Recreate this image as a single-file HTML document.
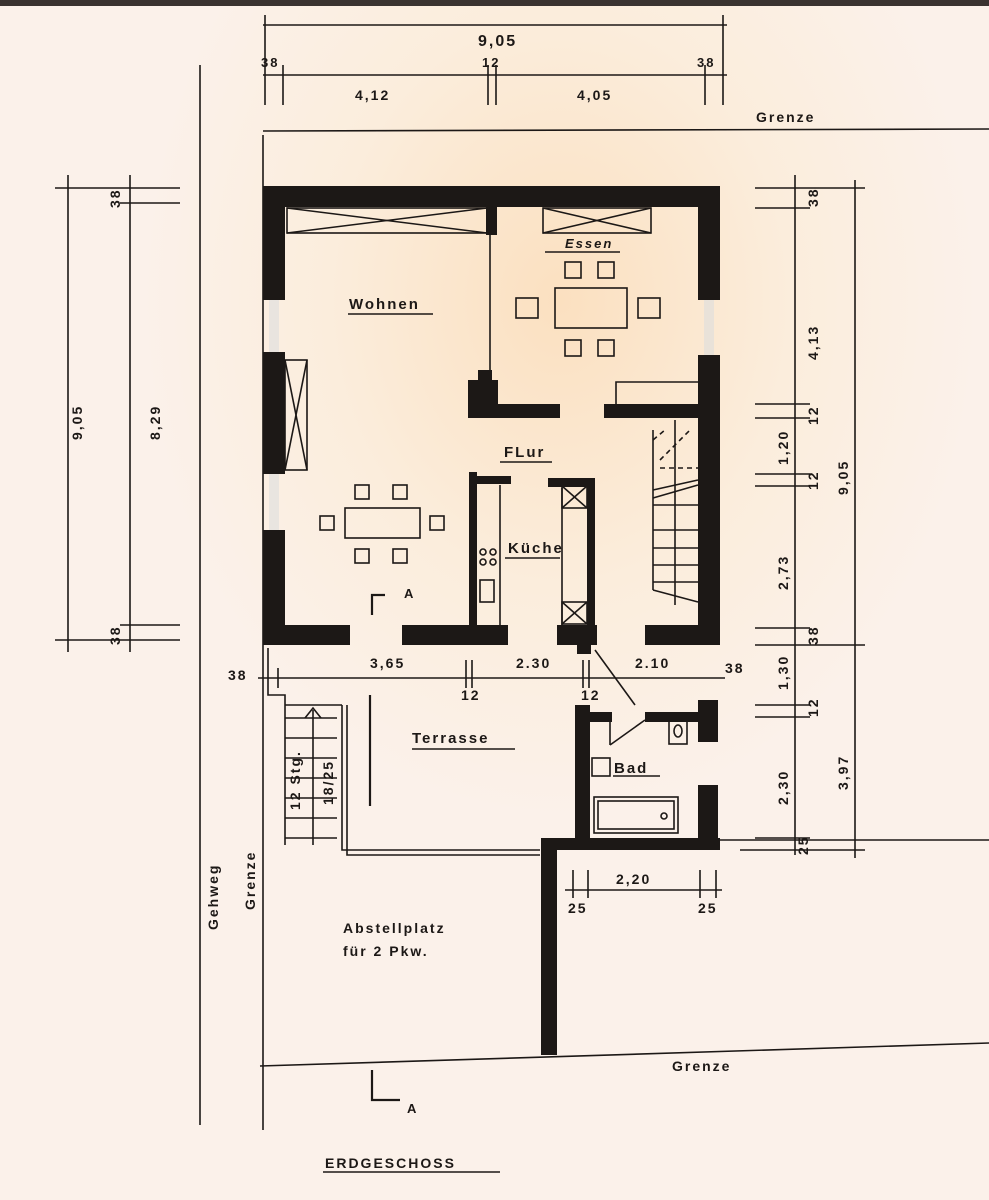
<!DOCTYPE html>
<html><head><meta charset="utf-8"><style>
html,body{margin:0;padding:0}
body{width:989px;height:1200px;overflow:hidden;background:radial-gradient(ellipse 420px 520px at 560px 300px,#fbe0c0 0%,#fbeddc 55%,#fbf1ea 100%);}
svg{display:block}
text{font-family:"Liberation Sans",sans-serif;fill:#1c1816;letter-spacing:2px;font-weight:bold}
</style></head><body>
<svg width="989" height="1200" viewBox="0 0 989 1200" xmlns="http://www.w3.org/2000/svg">
<rect x="0" y="0" width="989" height="6" fill="#3a3330"/>
<g stroke="#1c1816" stroke-width="1.6" fill="none">
<line x1="263" y1="25" x2="727" y2="25"/><line x1="263" y1="75" x2="727" y2="75"/>
<line x1="265" y1="15" x2="265" y2="105"/><line x1="723" y1="15" x2="723" y2="105"/>
<line x1="283" y1="65" x2="283" y2="105"/><line x1="488" y1="65" x2="488" y2="105"/><line x1="496" y1="65" x2="496" y2="105"/><line x1="705" y1="65" x2="705" y2="105"/>
<line x1="263" y1="131" x2="989" y2="129"/>
<line x1="263" y1="135" x2="263" y2="1130"/>
<line x1="200" y1="65" x2="200" y2="1125"/>
<line x1="260" y1="1066" x2="989" y2="1043"/>
<line x1="68" y1="175" x2="68" y2="652"/><line x1="130" y1="175" x2="130" y2="652"/>
<line x1="55" y1="188" x2="180" y2="188"/><line x1="120" y1="203" x2="180" y2="203"/>
<line x1="120" y1="625" x2="180" y2="625"/><line x1="55" y1="640" x2="180" y2="640"/>
<line x1="795" y1="175" x2="795" y2="855"/><line x1="855" y1="180" x2="855" y2="858"/>
<line x1="755" y1="188" x2="865" y2="188"/><line x1="755" y1="208" x2="810" y2="208"/>
<line x1="755" y1="404" x2="810" y2="404"/><line x1="755" y1="418" x2="810" y2="418"/>
<line x1="755" y1="474" x2="810" y2="474"/><line x1="755" y1="486" x2="810" y2="486"/>
<line x1="755" y1="628" x2="810" y2="628"/><line x1="755" y1="645" x2="865" y2="645"/>
<line x1="755" y1="705" x2="810" y2="705"/><line x1="755" y1="717" x2="810" y2="717"/>
<line x1="755" y1="838" x2="810" y2="838"/><line x1="740" y1="850" x2="865" y2="850"/>
<line x1="720" y1="840" x2="989" y2="840"/>
<line x1="258" y1="678" x2="725" y2="678"/>
<line x1="278" y1="668" x2="278" y2="688"/><line x1="466" y1="660" x2="466" y2="688"/><line x1="472" y1="660" x2="472" y2="688"/>
<line x1="583" y1="660" x2="583" y2="688"/><line x1="589" y1="660" x2="589" y2="688"/>
<line x1="565" y1="890" x2="722" y2="890"/>
<line x1="573" y1="870" x2="573" y2="898"/><line x1="588" y1="870" x2="588" y2="898"/><line x1="700" y1="870" x2="700" y2="898"/><line x1="716" y1="870" x2="716" y2="898"/>
<rect x="287" y="208" width="200" height="25"/><line x1="287" y1="208" x2="487" y2="233"/><line x1="287" y1="233" x2="487" y2="208"/>
<rect x="543" y="208" width="108" height="25"/><line x1="543" y1="208" x2="651" y2="233"/><line x1="543" y1="233" x2="651" y2="208"/>
<rect x="285" y="360" width="22" height="110"/><line x1="285" y1="360" x2="307" y2="470"/><line x1="307" y1="360" x2="285" y2="470"/>
<line x1="490" y1="235" x2="490" y2="372"/>
<rect x="555" y="288" width="72" height="40"/>
<rect x="565" y="262" width="16" height="16"/><rect x="598" y="262" width="16" height="16"/>
<rect x="565" y="340" width="16" height="16"/><rect x="598" y="340" width="16" height="16"/>
<rect x="516" y="298" width="22" height="20"/><rect x="638" y="298" width="22" height="20"/>
<rect x="345" y="508" width="75" height="30"/>
<rect x="355" y="485" width="14" height="14"/><rect x="393" y="485" width="14" height="14"/>
<rect x="355" y="549" width="14" height="14"/><rect x="393" y="549" width="14" height="14"/>
<rect x="320" y="516" width="14" height="14"/><rect x="430" y="516" width="14" height="14"/>
<polyline points="616,405 616,382 698,382"/>
<line x1="653" y1="430" x2="653" y2="590"/><line x1="675" y1="420" x2="675" y2="605"/>
<line x1="653" y1="490" x2="698" y2="480"/><line x1="653" y1="498" x2="698" y2="485"/>
<line x1="653" y1="505" x2="698" y2="505"/><line x1="653" y1="530" x2="698" y2="530"/><line x1="653" y1="548" x2="698" y2="548"/><line x1="653" y1="565" x2="698" y2="565"/><line x1="653" y1="582" x2="698" y2="582"/>
<line x1="653" y1="590" x2="698" y2="602"/>
<line x1="653" y1="440" x2="665" y2="430" stroke-dasharray="5,4"/><line x1="660" y1="460" x2="690" y2="430" stroke-dasharray="5,4"/><line x1="660" y1="468" x2="698" y2="468" stroke-dasharray="5,4"/>
<line x1="500" y1="485" x2="500" y2="625"/><line x1="562" y1="488" x2="562" y2="625"/>
<rect x="562" y="486" width="25" height="22"/><line x1="562" y1="486" x2="587" y2="508"/><line x1="587" y1="486" x2="562" y2="508"/>
<rect x="562" y="602" width="25" height="22"/><line x1="562" y1="602" x2="587" y2="624"/><line x1="587" y1="602" x2="562" y2="624"/>
<line x1="505" y1="558" x2="560" y2="558"/>
<circle cx="483" cy="552" r="3"/><circle cx="493" cy="552" r="3"/><circle cx="483" cy="562" r="3"/><circle cx="493" cy="562" r="3"/>
<rect x="480" y="580" width="14" height="22"/>
<polyline points="268,648 268,695 285,695 285,845"/>
<polyline points="342,705 342,850 540,850"/><polyline points="347,705 347,855 540,855"/>
<line x1="285" y1="705" x2="342" y2="705"/>
<line x1="285" y1="718" x2="337" y2="718"/><line x1="285" y1="738" x2="337" y2="738"/><line x1="285" y1="758" x2="337" y2="758"/><line x1="285" y1="778" x2="337" y2="778"/><line x1="285" y1="798" x2="337" y2="798"/><line x1="285" y1="818" x2="337" y2="818"/><line x1="285" y1="838" x2="337" y2="838"/>
<line x1="313" y1="710" x2="313" y2="845"/><polyline points="305,718 313,708 321,718"/>
<line x1="370" y1="695" x2="370" y2="806" stroke-width="2.2"/>
<line x1="595" y1="650" x2="635" y2="705"/><line x1="610" y1="745" x2="645" y2="720"/><line x1="610" y1="720" x2="610" y2="745"/>
<rect x="594" y="797" width="84" height="36"/><rect x="598" y="801" width="76" height="28"/><circle cx="664" cy="816" r="3"/>
<rect x="669" y="718" width="18" height="26"/><ellipse cx="678" cy="731" rx="4" ry="6"/>
<rect x="592" y="758" width="18" height="18"/>
<polyline points="385,595 372,595 372,615" stroke-width="2.2"/><polyline points="372,1070 372,1100 400,1100" stroke-width="2.2"/>
<line x1="348" y1="314" x2="433" y2="314"/><line x1="500" y1="462" x2="552" y2="462"/><line x1="412" y1="749" x2="515" y2="749"/><line x1="613" y1="776" x2="660" y2="776"/><line x1="323" y1="1172" x2="500" y2="1172"/><line x1="545" y1="252" x2="620" y2="252"/>
</g>
<g fill="#1c1816">
<rect x="263" y="186" width="457" height="21"/>
<rect x="263" y="186" width="22" height="114"/><rect x="263" y="352" width="22" height="122"/><rect x="263" y="530" width="22" height="115"/>
<rect x="698" y="186" width="22" height="114"/><rect x="698" y="355" width="22" height="290"/>
<rect x="263" y="625" width="87" height="20"/><rect x="402" y="625" width="106" height="20"/><rect x="557" y="625" width="40" height="20"/><rect x="577" y="640" width="14" height="14"/><rect x="645" y="625" width="75" height="20"/>
<rect x="486" y="207" width="11" height="28"/>
<rect x="468" y="380" width="30" height="38"/><rect x="478" y="370" width="14" height="12"/><rect x="497" y="404" width="63" height="14"/><rect x="604" y="404" width="94" height="14"/>
<rect x="469" y="472" width="8" height="156"/><rect x="469" y="476" width="42" height="8"/><rect x="548" y="478" width="47" height="9"/><rect x="587" y="478" width="8" height="150"/>
<rect x="575" y="705" width="15" height="145"/><rect x="575" y="712" width="37" height="10"/><rect x="645" y="712" width="73" height="10"/>
<rect x="698" y="700" width="20" height="42"/><rect x="698" y="785" width="20" height="65"/><rect x="541" y="838" width="179" height="12"/>
<rect x="541" y="838" width="16" height="217"/>
</g>
<g fill="#ddd" opacity="0.6"><rect x="269" y="300" width="10" height="52"/><rect x="269" y="474" width="10" height="56"/><rect x="704" y="300" width="10" height="55"/></g>
<text x="478" y="46" font-size="16">9,05</text>
<text x="261" y="67" font-size="13">38</text><text x="482" y="67" font-size="13">12</text><text x="697" y="67" font-size="13">38</text>
<text x="355" y="100" font-size="14">4,12</text><text x="577" y="100" font-size="14">4,05</text>
<text x="756" y="122" font-size="14">Grenze</text>
<text x="349" y="309" font-size="15">Wohnen</text>
<text x="565" y="248" font-size="13" font-style="italic">Essen</text>
<text x="504" y="457" font-size="15">FLur</text>
<text x="508" y="553" font-size="15">Küche</text>
<text x="404" y="598" font-size="13">A</text>
<text x="228" y="680" font-size="14">38</text><text x="370" y="668" font-size="14">3,65</text><text x="516" y="668" font-size="14">2.30</text><text x="635" y="668" font-size="14">2.10</text><text x="725" y="673" font-size="14">38</text>
<text x="461" y="700" font-size="14">12</text><text x="581" y="700" font-size="14">12</text>
<text x="412" y="743" font-size="15">Terrasse</text>
<text x="614" y="773" font-size="15">Bad</text>
<text x="616" y="884" font-size="14">2,20</text><text x="568" y="913" font-size="14">25</text><text x="698" y="913" font-size="14">25</text>
<text x="343" y="933" font-size="14">Abstellplatz</text><text x="343" y="956" font-size="14">für 2 Pkw.</text>
<text x="672" y="1071" font-size="14">Grenze</text>
<text x="407" y="1113" font-size="13">A</text>
<text x="325" y="1168" font-size="14">ERDGESCHOSS</text>
<g font-size="14">
<text transform="translate(218,930) rotate(-90)">Gehweg</text>
<text transform="translate(255,910) rotate(-90)">Grenze</text>
<text transform="translate(82,440) rotate(-90)">9,05</text>
<text transform="translate(160,440) rotate(-90)">8,29</text>
<text transform="translate(120,208) rotate(-90)">38</text><text transform="translate(120,645) rotate(-90)">38</text>
<text transform="translate(818,207) rotate(-90)">38</text><text transform="translate(818,360) rotate(-90)">4,13</text><text transform="translate(818,425) rotate(-90)">12</text>
<text transform="translate(788,465) rotate(-90)">1,20</text><text transform="translate(818,490) rotate(-90)">12</text>
<text transform="translate(788,590) rotate(-90)">2,73</text><text transform="translate(848,495) rotate(-90)">9,05</text>
<text transform="translate(818,645) rotate(-90)">38</text><text transform="translate(788,690) rotate(-90)">1,30</text><text transform="translate(818,717) rotate(-90)">12</text>
<text transform="translate(788,805) rotate(-90)">2,30</text><text transform="translate(848,790) rotate(-90)">3,97</text><text transform="translate(808,855) rotate(-90)">25</text>
<text transform="translate(300,810) rotate(-90)">12 Stg.</text><text transform="translate(333,805) rotate(-90)">18/25</text>
</g>
</svg>
</body></html>
